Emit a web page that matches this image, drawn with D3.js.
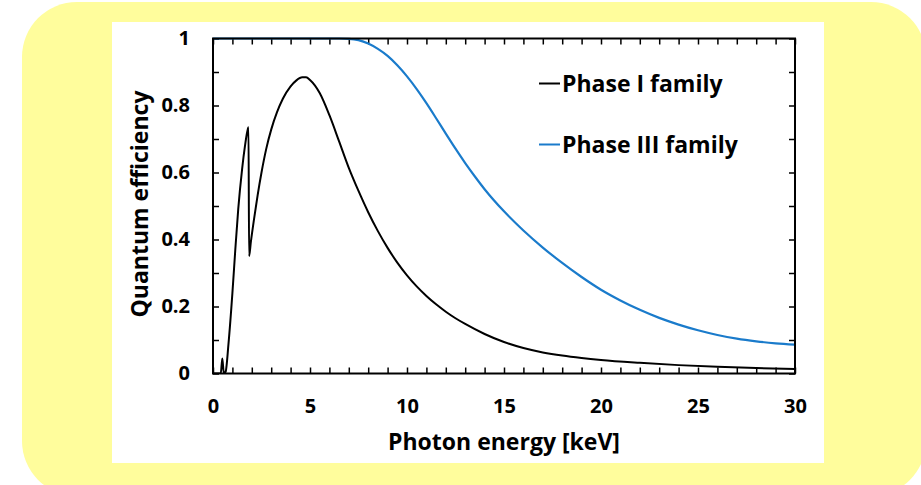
<!DOCTYPE html>
<html>
<head>
<meta charset="utf-8">
<script src="https://cdn.jsdelivr.net/npm/d3@7"></script>
<style>
  html, body { margin: 0; padding: 0; background: #ffffff; }
  text { font-family: "Open Sans", sans-serif; font-weight: 700; fill: #000; }
</style>
</head>
<body>
<div id="chart"></div>
<script>
// Phase I family (black)
var phase1Energy = [0, 0.4, 0.48, 0.56, 0.65, 0.8, 1.0, 1.15, 1.3, 1.5, 1.65, 1.76, 1.83, 1.86, 1.95, 2.1, 2.3, 2.5, 2.75, 3.0, 3.3, 3.6, 4.0, 4.3, 4.6, 4.8, 5.0, 5.5, 6.0, 6.5, 7.0, 7.5, 8.0, 8.5, 9.0, 9.5, 10, 10.5, 11, 11.5, 12, 12.5, 13, 14, 15, 16, 17, 18, 19, 20, 22, 24, 26, 28, 30]
var phase1QE = [0, 0, 0.045, 0, 0.005, 0.09, 0.24, 0.37, 0.49, 0.61, 0.68, 0.72, 0.735, 0.35, 0.392, 0.455, 0.532, 0.600, 0.672, 0.728, 0.780, 0.820, 0.857, 0.875, 0.884, 0.884, 0.876, 0.837, 0.771, 0.693, 0.614, 0.545, 0.4815, 0.425, 0.375, 0.331, 0.293, 0.26, 0.2315, 0.2065, 0.1845, 0.165, 0.148, 0.118, 0.094, 0.076, 0.063, 0.0535, 0.0463, 0.0405, 0.032, 0.025, 0.0198, 0.0163, 0.0138]

// Phase III family (blue)
var phase3Energy = [0, 6.5, 7.0, 7.5, 8.0, 8.5, 9.0, 9.5, 10, 10.5, 11, 11.5, 12, 12.5, 13, 13.5, 14, 15, 16, 17, 18, 19, 20, 21, 22, 23, 24, 25, 26, 27, 28, 29, 30]
var phase3QE = [1, 1, 0.999, 0.995, 0.985, 0.969, 0.948, 0.92, 0.887, 0.849, 0.807, 0.762, 0.716, 0.671, 0.628, 0.588, 0.55, 0.484, 0.427, 0.376, 0.330, 0.288, 0.250, 0.218, 0.190, 0.166, 0.146, 0.129, 0.115, 0.104, 0.096, 0.090, 0.086]

var seriesNames = ["Phase I family", "Phase III family"]
var seriesColors = ["#000000", "#1a7bcb"]

var xTicks = d3.range(0, 31, 1)
var yTicks = d3.range(0, 11, 1).map(function(d){ return d / 10 })

var W = 921, H = 485
var plotL = 213, plotR = 795, plotT = 38.5, plotB = 373.5

var svg = d3.select("#chart")
  .append("svg")
    .attr("width", W)
    .attr("height", H)

// yellow rounded panel + white card
svg.append("rect")
  .attr("x", 22).attr("y", 2)
  .attr("width", 904).attr("height", 494)
  .attr("rx", 55).attr("ry", 55)
  .attr("fill", "#fffd9c")
svg.append("rect")
  .attr("x", 112).attr("y", 22)
  .attr("width", 712).attr("height", 441)
  .attr("fill", "#ffffff")

var x = d3.scaleLinear().domain([0, 30]).range([plotL, plotR])
var y = d3.scaleLinear().domain([0, 1]).range([plotB, plotT])

var fmtY = function(d){ return Math.round(d * 10) % 2 === 0 ? String(+d.toFixed(1)) : "" }
var fmtX = function(d){ return d % 5 === 0 ? String(d) : "" }

// axes, ticks pointing inward
svg.append("g")
  .attr("class", "axis")
  .attr("transform", "translate(0," + plotB + ")")
  .call(d3.axisBottom(x).tickValues(xTicks).tickSize(-6).tickPadding(25).tickFormat(fmtX))
svg.append("g")
  .attr("class", "axis")
  .attr("transform", "translate(0," + plotT + ")")
  .call(d3.axisTop(x).tickValues(xTicks).tickSize(-6).tickFormat(""))
svg.append("g")
  .attr("class", "axis")
  .attr("transform", "translate(" + plotL + ",0)")
  .call(d3.axisLeft(y).tickValues(yTicks).tickSize(-6).tickPadding(23).tickFormat(fmtY))
svg.append("g")
  .attr("class", "axis")
  .attr("transform", "translate(" + plotR + ",0)")
  .call(d3.axisRight(y).tickValues(yTicks).tickSize(-6).tickFormat(""))

svg.selectAll(".axis .domain").remove()
svg.selectAll(".axis line").attr("stroke", "#000").attr("stroke-width", 1.5)
svg.selectAll(".axis text").style("font-size", "20px").style("font-family", "'Open Sans', sans-serif").style("font-weight", 700).attr("fill", "#000")

// clip for curves
svg.append("clipPath").attr("id", "plotclip")
  .append("rect")
  .attr("x", plotL).attr("y", plotT - 2)
  .attr("width", plotR - plotL).attr("height", plotB - plotT + 2)

var line = d3.line()
  .x(function(d){ return x(d[0]) })
  .y(function(d){ return y(d[1]) })
  .curve(d3.curveMonotoneX)

var phase1 = phase1Energy.map(function(e, i){ return [e, phase1QE[i]] })
var phase3 = phase3Energy.map(function(e, i){ return [e, phase3QE[i]] })

svg.append("path")
  .datum(phase1)
  .attr("clip-path", "url(#plotclip)")
  .attr("fill", "none")
  .attr("stroke", seriesColors[0])
  .attr("stroke-width", 2)
  .attr("stroke-linejoin", "round")
  .attr("d", line)

svg.append("path")
  .datum(phase3)
  .attr("clip-path", "url(#plotclip)")
  .attr("fill", "none")
  .attr("stroke", seriesColors[1])
  .attr("stroke-width", 2.2)
  .attr("d", line)

// frame
svg.append("rect")
  .attr("x", plotL).attr("y", plotT)
  .attr("width", plotR - plotL).attr("height", plotB - plotT)
  .attr("fill", "none")
  .attr("stroke", "#000")
  .attr("stroke-width", 2)

// axis titles
svg.append("text")
  .attr("x", (plotL + plotR) / 2)
  .attr("y", 450)
  .attr("text-anchor", "middle")
  .style("font-size", "23px")
  .text("Photon energy [keV]")

svg.append("text")
  .attr("transform", "translate(148,204) rotate(-90)")
  .attr("text-anchor", "middle")
  .style("font-size", "23px")
  .text("Quantum efficiency")

// legend
var legendY = [83.5, 144.5]
var legend = svg.selectAll(".legend")
  .data(seriesNames)
  .enter()
  .append("g")
  .attr("class", "legend")
  .attr("transform", function(d, i){ return "translate(539," + legendY[i] + ")" })

legend.append("line")
  .attr("x1", 0).attr("x2", 21)
  .attr("y1", 0).attr("y2", 0)
  .attr("stroke", function(d, i){ return seriesColors[i] })
  .attr("stroke-width", 2)

legend.append("text")
  .attr("x", 23)
  .attr("y", 8.3)
  .style("font-size", "23px")
  .text(function(d){ return d })
</script>
</body>
</html>
